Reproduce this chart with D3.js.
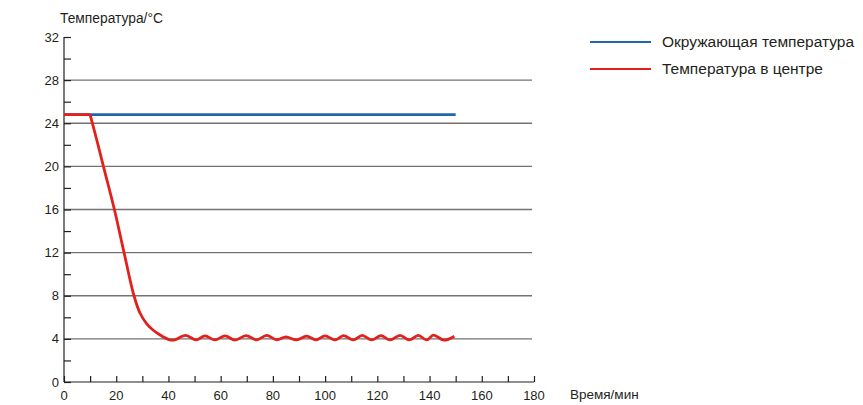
<!DOCTYPE html>
<html>
<head>
    <meta charset="utf-8">
    <script src="https://cdn.jsdelivr.net/npm/d3@7"></script>
    <style>
        body { margin: 0; background: #fff; }
        text { font-family: Arial, "Liberation Sans", sans-serif; fill: #231f20; }
    </style>
</head>
<body>
    <div id="viz"></div>
    <script>
    //Data
    var xTicks = [0, 20, 40, 60, 80, 100, 120, 140, 160, 180];
    var yTicks = [0, 4, 8, 12, 16, 20, 24, 28, 32];
    var gridValues = [4, 8, 12, 16, 20, 24, 28];

    var ambientTime = [0, 150];
    var ambientTemp = [24.8, 24.8];

    var centerTime = [0, 10, 12.6, 15.1, 19.3, 23, 26.8, 29.1, 31.7, 34.2, 36.8, 39.9, 42, 46.6, 50.6, 54, 57.8,
                      61.7, 65.5, 69.7, 73.8, 77.6, 81.5, 85, 89.1, 92.9, 96.5, 100, 103.8, 107, 110.8, 114.2,
                      117.8, 121.4, 124.9, 128.7, 132.2, 135.7, 138.9, 141.5, 145.5, 149.5];
    var centerTemp = [24.8, 24.8, 22.4, 20, 16, 12, 8, 6.4, 5.4, 4.8, 4.36, 3.96, 3.88, 4.32, 3.9, 4.28, 3.9,
                      4.28, 3.88, 4.3, 3.9, 4.32, 3.92, 4.18, 3.9, 4.26, 3.9, 4.28, 3.9, 4.3, 3.9, 4.32,
                      3.9, 4.3, 3.9, 4.32, 3.9, 4.32, 3.9, 4.35, 3.88, 4.25];

    var legendNames = ["Окружающая температура", "Температура в центре"];
    var colors = ["#2366ae", "#e2211c"];

    var width = 863;
    var height = 405;

    var svg = d3.select("#viz").append("svg")
        .attr("width", width)
        .attr("height", height);

    var x = d3.scaleLinear().domain([0, 180]).range([64, 534]);
    var y = d3.scaleLinear().domain([0, 32]).range([382, 37]);

    //Grid lines
    svg.append("g").selectAll("line")
        .data(gridValues)
        .enter().append("line")
        .attr("x1", x(0)).attr("x2", 532)
        .attr("y1", function(d) { return y(d); })
        .attr("y2", function(d) { return y(d); })
        .attr("stroke", "#767171")
        .attr("stroke-width", 1.3);

    //Y axis: ticks point inside, minor ticks every 2
    var yAxis = d3.axisRight(y)
        .tickValues(d3.range(0, 33, 2))
        .tickSize(7)
        .tickFormat("");
    var gy = svg.append("g").attr("transform", "translate(" + x(0) + ",0)").call(yAxis);
    gy.select(".domain").attr("d", "M0," + y(32) + "V" + y(0));

    svg.append("g").selectAll("text")
        .data(yTicks)
        .enter().append("text")
        .attr("x", 59)
        .attr("y", function(d) { return y(d) + 4.5; })
        .attr("text-anchor", "end")
        .attr("font-size", 13)
        .text(function(d) { return d; });

    //X axis: ticks point up, every 10
    var xAxis = d3.axisTop(x)
        .tickValues(d3.range(0, 181, 10))
        .tickSize(6)
        .tickFormat("");
    var gx = svg.append("g").attr("transform", "translate(0," + y(0) + ")").call(xAxis);
    gx.select(".domain").attr("d", "M" + x(0) + ",0H" + x(180));

    svg.selectAll(".domain, .tick line").attr("stroke", "#231f20").attr("stroke-width", 1.2);

    svg.append("g").selectAll("text")
        .data(xTicks)
        .enter().append("text")
        .attr("x", function(d) { return x(d); })
        .attr("y", 400)
        .attr("text-anchor", "middle")
        .attr("font-size", 13)
        .text(function(d) { return d; });

    //Axis titles
    svg.append("text").attr("x", 60).attr("y", 23).attr("font-size", 13.8).text("Температура/°C");
    svg.append("text").attr("x", 570).attr("y", 399).attr("font-size", 13.5).text("Время/мин");

    //Ambient line
    var lineLinear = d3.line()
        .x(function(d) { return x(d[0]); })
        .y(function(d) { return y(d[1]); });
    svg.append("path")
        .attr("d", lineLinear(d3.zip(ambientTime, ambientTemp)))
        .attr("fill", "none")
        .attr("stroke", colors[0])
        .attr("stroke-width", 2.6);

    //Center line: flat part straight, the rest smooth
    var centerPts = d3.zip(centerTime, centerTemp);
    var lineSmooth = d3.line()
        .x(function(d) { return x(d[0]); })
        .y(function(d) { return y(d[1]); })
        .curve(d3.curveCatmullRom.alpha(0.5));
    svg.append("path")
        .attr("d", lineLinear(centerPts.slice(0, 2)) + lineSmooth(centerPts.slice(1)))
        .attr("fill", "none")
        .attr("stroke", colors[1])
        .attr("stroke-width", 2.8)
        .attr("stroke-linejoin", "round");

    //Legend
    var legend = svg.append("g").selectAll("g")
        .data(legendNames)
        .enter().append("g")
        .attr("transform", function(d, i) { return "translate(590," + (42 + i * 27) + ")"; });
    legend.append("line")
        .attr("x1", 0).attr("x2", 61)
        .attr("stroke", function(d, i) { return colors[i]; })
        .attr("stroke-width", 2);
    legend.append("text")
        .attr("x", 72).attr("y", 5)
        .attr("font-size", 15.5)
        .text(function(d) { return d; });
    </script>
</body>
</html>
